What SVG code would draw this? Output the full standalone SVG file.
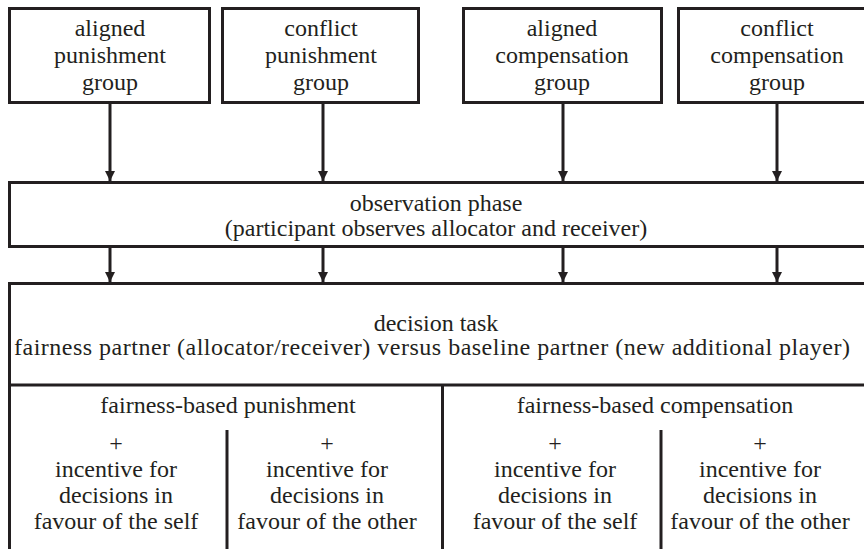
<svg xmlns="http://www.w3.org/2000/svg" width="864" height="549" viewBox="0 0 864 549">
<style>
.box{fill:#fff;stroke:#231f20;stroke-width:3}
.ln{stroke:#231f20;stroke-width:3;fill:none}
text{font-family:'Liberation Serif',Tinos,'Times New Roman','Nimbus Roman',Times,serif;font-size:24px;fill:#231f20;text-anchor:middle}
</style>
<defs>
<marker id="ah" viewBox="0 0 10 10" refX="10" refY="5" markerWidth="10" markerHeight="10" markerUnits="userSpaceOnUse" orient="auto">
<path d="M0,0 L10,5 L0,10 z" fill="#231f20"/>
</marker>
</defs>
<rect width="864" height="549" fill="#fff"/>
<g id="connectors">
<line class="ln" x1="110" y1="102" x2="110" y2="181" marker-end="url(#ah)"/>
<line class="ln" x1="323" y1="102" x2="323" y2="181" marker-end="url(#ah)"/>
<line class="ln" x1="563" y1="102" x2="563" y2="181" marker-end="url(#ah)"/>
<line class="ln" x1="777" y1="102" x2="777" y2="181" marker-end="url(#ah)"/>
<line class="ln" x1="110" y1="247" x2="110" y2="282" marker-end="url(#ah)"/>
<line class="ln" x1="323" y1="247" x2="323" y2="282" marker-end="url(#ah)"/>
<line class="ln" x1="563" y1="247" x2="563" y2="282" marker-end="url(#ah)"/>
<line class="ln" x1="777" y1="247" x2="777" y2="282" marker-end="url(#ah)"/>
</g>
<g id="aligned-punishment">
<rect class="box" x="9.5" y="8.5" width="200" height="94"/>
<text x="110" y="36">aligned</text>
<text x="110" y="63">punishment</text>
<text x="110" y="90">group</text>
</g>
<g id="conflict-punishment">
<rect class="box" x="222.5" y="8.5" width="196" height="94"/>
<text x="321" y="36">conflict</text>
<text x="321" y="63">punishment</text>
<text x="321" y="90">group</text>
</g>
<g id="aligned-compensation">
<rect class="box" x="463.5" y="8.5" width="198" height="94"/>
<text x="562" y="36">aligned</text>
<text x="562" y="63">compensation</text>
<text x="562" y="90">group</text>
</g>
<g id="conflict-compensation">
<rect class="box" x="678.5" y="8.5" width="200" height="94"/>
<text x="777" y="36">conflict</text>
<text x="777" y="63">compensation</text>
<text x="777" y="90">group</text>
</g>
<g id="observation">
<rect class="box" x="9.5" y="182.5" width="870" height="64"/>
<text x="436" y="211">observation phase</text>
<text x="436" y="236">(participant observes allocator and receiver)</text>
</g>
<g id="decision">
<rect class="box" x="9.5" y="283.5" width="870" height="280"/>
<text x="436" y="331">decision task</text>
<text x="432" y="355" textLength="836" lengthAdjust="spacing">fairness partner (allocator/receiver) versus baseline partner (new additional player)</text>
<line class="ln" x1="9" y1="385" x2="870" y2="385"/>
<line class="ln" x1="442.5" y1="385" x2="442.5" y2="552"/>
</g>
<g id="punishment">
<text x="228" y="413">fairness-based punishment</text>
<line class="ln" x1="227" y1="430" x2="227" y2="552"/>
<text x="116" y="451">+</text>
<text x="116" y="477">incentive for</text>
<text x="116" y="503">decisions in</text>
<text x="116" y="529">favour of the self</text>
<text x="327" y="451">+</text>
<text x="327" y="477">incentive for</text>
<text x="327" y="503">decisions in</text>
<text x="327" y="529">favour of the other</text>
</g>
<g id="compensation">
<text x="655" y="413">fairness-based compensation</text>
<line class="ln" x1="661" y1="430" x2="661" y2="552"/>
<text x="555" y="451">+</text>
<text x="555" y="477">incentive for</text>
<text x="555" y="503">decisions in</text>
<text x="555" y="529">favour of the self</text>
<text x="760" y="451">+</text>
<text x="760" y="477">incentive for</text>
<text x="760" y="503">decisions in</text>
<text x="760" y="529">favour of the other</text>
</g>
</svg>
